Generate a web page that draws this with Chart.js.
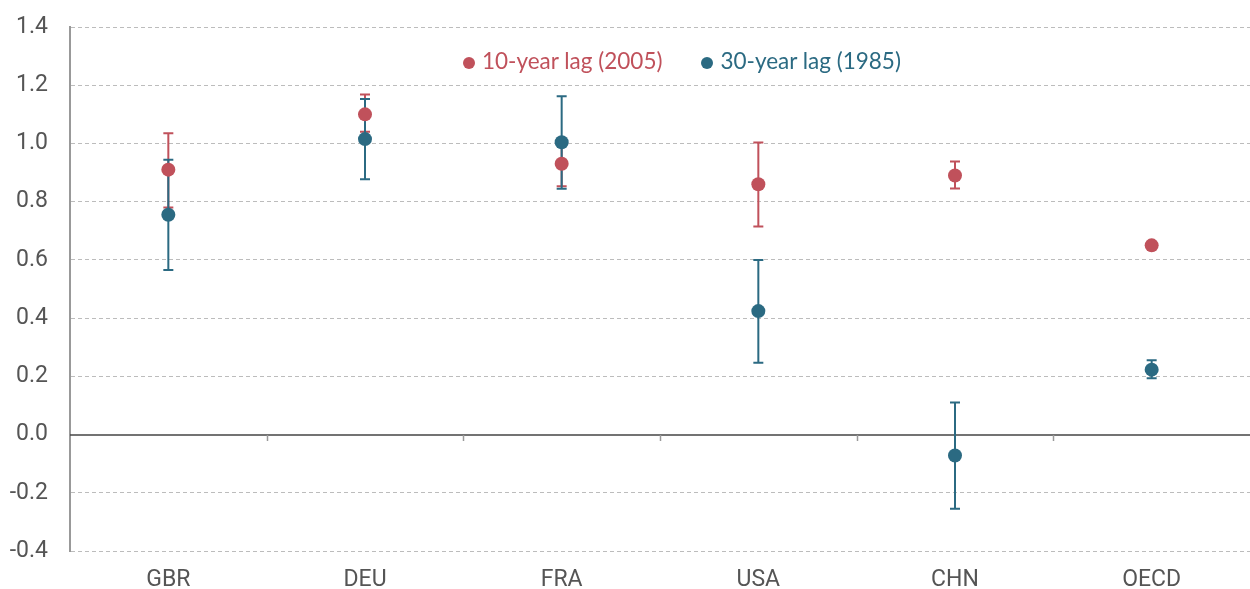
<!DOCTYPE html>
<html>
<head>
<meta charset="utf-8">
<script src="https://cdn.jsdelivr.net/npm/chart.js@4.4.1/dist/chart.umd.min.js"></script>
<style>
  html, body { margin: 0; padding: 0; background: #fff; }
  #wrap { position: relative; width: 1250px; height: 589px; }
  #legend { position: absolute; left: 463px; top: 47px; display: flex; font-family: Lato, "Noto Sans", sans-serif; font-size: 22.5px; }
  #legend span.item { display: flex; align-items: center; margin-right: 39px; }
  #legend span.dot { width: 12px; height: 12px; border-radius: 50%; margin-right: 7px; margin-top: 5px; }
</style>
</head>
<body>
<div id="wrap">
  <canvas id="lagChart" width="1250" height="589"></canvas>
  <div id="legend"></div>
</div>
<script>
// Chart data
const categories = ['GBR', 'DEU', 'FRA', 'USA', 'CHN', 'OECD'];
const yTicks = [-0.4, -0.2, 0.0, 0.2, 0.4, 0.6, 0.8, 1.0, 1.2, 1.4];

const lag10 = [0.91, 1.10, 0.93, 0.86, 0.89, 0.65];
const lag10Low = [0.78, 1.04, 0.853, 0.715, 0.845, 0.64];
const lag10High = [1.035, 1.168, 1.00, 1.003, 0.938, 0.66];

const lag30 = [0.755, 1.015, 1.004, 0.424, -0.072, 0.223];
const lag30Low = [0.565, 0.877, 0.844, 0.247, -0.255, 0.193];
const lag30High = [0.944, 1.153, 1.162, 0.600, 0.110, 0.255];

const seriesNames = ['10-year lag (2005)', '30-year lag (1985)'];
const RED = '#c0515b';
const TEAL = '#2b6a82';

// Draws the zero line with its category ticks, then the error bars
const errorBarPlugin = {
    id: 'errorBars',
    beforeDatasetsDraw(chart) {
        const ctx = chart.ctx;
        const x = chart.scales.x;
        const y = chart.scales.y;
        const area = chart.chartArea;
        const y0 = Math.round(y.getPixelForValue(0));

        ctx.save();
        ctx.strokeStyle = '#444';
        ctx.lineWidth = 1.5;
        ctx.beginPath();
        ctx.moveTo(area.left, y0);
        ctx.lineTo(area.right, y0);
        ctx.stroke();

        ctx.strokeStyle = '#999';
        ctx.lineWidth = 1.5;
        const half = (x.getPixelForValue(1) - x.getPixelForValue(0)) / 2;
        for (let i = 0; i < categories.length - 1; i++) {
            const px = Math.round(x.getPixelForValue(i) + half) + 0.5;
            ctx.beginPath();
            ctx.moveTo(px, y0);
            ctx.lineTo(px, y0 + 6);
            ctx.stroke();
        }

        chart.data.datasets.forEach(function(ds) {
            ctx.strokeStyle = ds.backgroundColor;
            ctx.lineWidth = 2;
            for (let i = 0; i < ds.data.length; i++) {
                const px = x.getPixelForValue(i);
                const top = y.getPixelForValue(ds.errHigh[i]);
                const bot = y.getPixelForValue(ds.errLow[i]);
                ctx.beginPath();
                ctx.moveTo(px, top);
                ctx.lineTo(px, bot);
                ctx.moveTo(px - 5, top);
                ctx.lineTo(px + 5, top);
                ctx.moveTo(px - 5, bot);
                ctx.lineTo(px + 5, bot);
                ctx.stroke();
            }
        });
        ctx.restore();
    }
};

function makeDataset(label, data, low, high, color) {
    return {
        label: label,
        data: data,
        errLow: low,
        errHigh: high,
        showLine: false,
        backgroundColor: color,
        borderColor: color,
        pointRadius: 7,
        pointHoverRadius: 7,
        pointBorderWidth: 0
    };
}

function initializeLagChart() {
    const ctx = document.getElementById('lagChart').getContext('2d');
    window.lagChart = new Chart(ctx, {
        type: 'line',
        data: {
            labels: categories,
            datasets: [
                makeDataset(seriesNames[0], lag10, lag10Low, lag10High, RED),
                makeDataset(seriesNames[1], lag30, lag30Low, lag30High, TEAL)
            ]
        },
        options: {
            responsive: false,
            animation: false,
            layout: { autoPadding: false, padding: { top: 27, right: 0, left: 0, bottom: 0 } },
            scales: {
                x: {
                    offset: true,
                    grid: { display: false, drawTicks: false },
                    border: { display: false },
                    ticks: {
                        color: '#555',
                        padding: 15,
                        font: { family: 'Roboto', size: 23 }
                    },
                    afterFit: function(scale) {
                        scale.height = 38;
                        scale.paddingLeft = 0;
                        scale.paddingRight = 0;
                    }
                },
                y: {
                    min: -0.4,
                    max: 1.4,
                    afterBuildTicks: function(scale) {
                        scale.ticks = yTicks.map(v => ({ value: v }));
                    },
                    grid: {
                        drawTicks: false,
                        color: function(c) { return c.tick && c.tick.value === 0 ? 'rgba(0,0,0,0)' : '#bcbcbc'; },
                        lineWidth: 1
                    },
                    border: { color: '#999', width: 2, dash: [4, 3] },
                    ticks: {
                        color: '#555',
                        padding: 22,
                        font: { family: 'Roboto', size: 23 },
                        callback: function(v) { return Number(v).toFixed(1); }
                    },
                    afterFit: function(scale) {
                        scale.width = 70;
                        scale.paddingTop = 0;
                        scale.paddingBottom = 0;
                    }
                }
            },
            plugins: {
                legend: { display: false },
                tooltip: { enabled: false }
            }
        },
        plugins: [errorBarPlugin]
    });
}

// HTML legend placed inside the plot area
function buildLegend() {
    const box = document.getElementById('legend');
    [[seriesNames[0], RED], [seriesNames[1], TEAL]].forEach(function(item) {
        const span = document.createElement('span');
        span.className = 'item';
        span.style.color = item[1];
        const dot = document.createElement('span');
        dot.className = 'dot';
        dot.style.background = item[1];
        span.appendChild(dot);
        span.appendChild(document.createTextNode(item[0]));
        box.appendChild(span);
    });
}

initializeLagChart();
buildLegend();
</script>
</body>
</html>
